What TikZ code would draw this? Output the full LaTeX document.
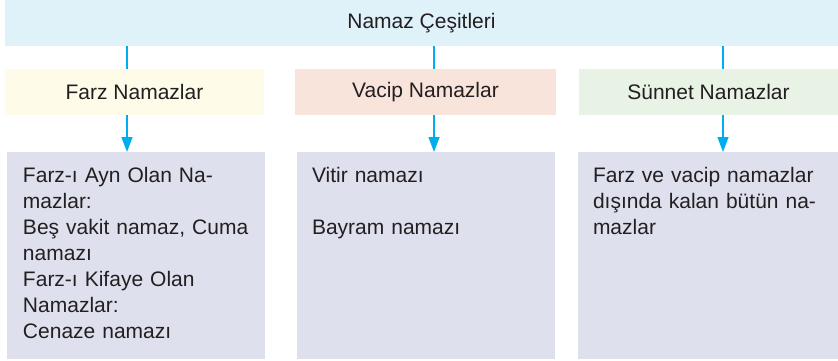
\documentclass[tikz,border=0pt]{standalone}
\usepackage{fontspec}
\setmainfont{Liberation Sans}
\usetikzlibrary{arrows.meta}
\definecolor{topblue}{HTML}{DFF2FA}
\definecolor{farzyellow}{HTML}{FEFBE9}
\definecolor{vacippink}{HTML}{F9E4DC}
\definecolor{sunnetgreen}{HTML}{E8F3E6}
\definecolor{listlav}{HTML}{DFE0EE}
\definecolor{linecyan}{HTML}{00AEEF}
\definecolor{textgray}{HTML}{231F20}
\tikzset{
  box/.style={inner sep=0pt, outer sep=0pt, anchor=north west, text=textgray,
    font=\fontsize{21}{26}\selectfont},
  listbox/.style={box, fill=listlav, minimum width=258pt, minimum height=207pt},
  listtext/.style={box, anchor=north west, text width=230pt, align=left},
  conn/.style={draw=linecyan, line width=1.4pt},
  arr/.style={conn, -{Triangle[length=15pt,width=11pt]}}
}
\begin{document}
\begin{tikzpicture}[x=1pt,y=-1pt]
\useasboundingbox (0,0) rectangle (838,361);
\node[box, fill=topblue, minimum width=833pt, minimum height=46pt] (top) at (5,0) {Namaz Çeşitleri};
\node[box, fill=farzyellow, minimum width=259pt, minimum height=46pt] (farz) at (5,69) {Farz Namazlar};
\node[box, fill=vacippink, minimum width=261pt, minimum height=46pt] (vacip) at (295,69) {Vacip Namazlar};
\node[box, fill=sunnetgreen, minimum width=259pt, minimum height=46pt] (sunnet) at (579,69) {Sünnet Namazlar};
\node[listbox] (farzlist) at (7,152) {};
\node[listbox, minimum width=258pt] (vaciplist) at (297,152) {};
\node[listbox, minimum width=260pt] (sunnetlist) at (578,152) {};
\node[listtext] (farztext) at (23,167) {Farz-ı Ayn Olan Na-\\mazlar:\\Beş vakit namaz, Cuma\\namazı\\Farz-ı Kifaye Olan\\Namazlar:\\Cenaze namazı};
\node[listtext] (vaciptext) at (312,167) {Vitir namazı\\[26pt]Bayram namazı};
\node[listtext] (sunnettext) at (593,167) {\makebox[227pt][s]{Farz ve vacip namazlar}\\\makebox[227pt][s]{dışında kalan bütün na-}\\mazlar};
\coordinate (c1) at (127,0);
\coordinate (c2) at (434,0);
\coordinate (c3) at (723,0);
\draw[conn] (top.south -| c1) -- (farz.north -| c1);
\draw[conn] (top.south -| c2) -- (vacip.north -| c2);
\draw[conn] (top.south -| c3) -- (sunnet.north -| c3);
\draw[arr] (farz.south -| c1) -- (farzlist.north -| c1);
\draw[arr] (vacip.south -| c2) -- (vaciplist.north -| c2);
\draw[arr] (sunnet.south -| c3) -- (sunnetlist.north -| c3);
\end{tikzpicture}
\end{document}
